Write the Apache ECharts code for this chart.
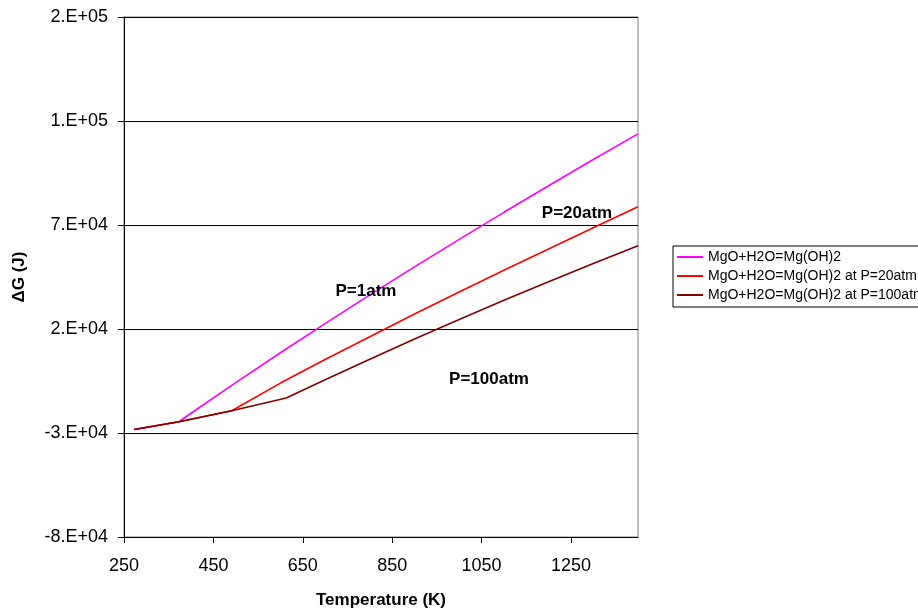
<!DOCTYPE html>
<html>
<head>
<meta charset="utf-8">
<title>MgO + H2O</title>
<script src="https://cdn.jsdelivr.net/npm/echarts@6/dist/echarts.min.js"></script>
<style>
  html, body { margin: 0; padding: 0; background: #fff; }
  #main { width: 918px; height: 609px; }
</style>
</head>
<body>
<div id="main"></div>
<script>
// 温度 (K) 与 ΔG (J)
let tempP1 = [273, 373, 400, 500, 600, 700, 800, 900, 1000, 1100, 1200, 1300, 1400]
let dgP1 = [-28300, -24600, -20500, -5800, 8600, 22600, 36400, 49900, 63100, 76100, 88900, 101500, 113800]

let tempP20 = [273, 373, 491, 500, 600, 700, 800, 900, 1000, 1100, 1200, 1300, 1400]
let dgP20 = [-28300, -24600, -19300, -18250, -6000, 5300, 16300, 27200, 37800, 48200, 58500, 68700, 78800]

let tempP100 = [273, 373, 491, 613, 700, 800, 900, 1000, 1100, 1200, 1300, 1400]
let dgP100 = [-28300, -24600, -19300, -13200, -4400, 5500, 15200, 24600, 33800, 42750, 51500, 60000]

let seriesNames = ['MgO+H2O=Mg(OH)2', 'MgO+H2O=Mg(OH)2 at P=20atm', 'MgO+H2O=Mg(OH)2 at P=100atm']
let seriesColors = ['#ff00ff', '#ff0000', '#800000']

// 刻度
let xTickValues = [250, 450, 650, 850, 1050, 1250]
let yTickValues = [-80000, -30000, 20000, 70000, 120000, 170000]
let yTickLabels = ['-8.E+04', '-3.E+04', '2.E+04', '7.E+04', '1.E+05', '2.E+05']

let font = "'Liberation Sans', Arial, sans-serif"

function pairs(xs, ys) {
  return xs.map((x, i) => [x, ys[i]])
}

let myChart = echarts.init(document.getElementById('main'), null, { renderer: 'canvas' })

let option = {
  animation: false,
  backgroundColor: '#fff',
  grid: {
    left: 124,
    top: 17,
    width: 514,
    height: 520,
    containLabel: false,
    outerBoundsMode: 'none',
    show: true,
    borderColor: '#808080',
    borderWidth: 1
  },
  legend: {
    orient: 'vertical',
    left: 673,
    top: 246,
    padding: [3, 4, 4, 4],
    icon: 'rect',
    itemWidth: 26,
    itemHeight: 2,
    itemGap: 3,
    borderColor: '#000',
    borderWidth: 1,
    selectedMode: false,
    textStyle: { fontFamily: font, fontSize: 14, color: '#000', lineHeight: 16 },
    data: seriesNames
  },
  xAxis: {
    type: 'value',
    min: 250,
    max: 1400,
    name: 'Temperature (K)',
    nameLocation: 'middle',
    nameGap: 55,
    nameTextStyle: { fontFamily: font, fontSize: 17, fontWeight: 'bold', color: '#000' },
    axisLine: { onZero: false, lineStyle: { color: '#000', width: 1 } },
    axisTick: { show: true, length: 6, lineStyle: { color: '#000' }, customValues: xTickValues },
    axisLabel: {
      customValues: xTickValues,
      margin: 20,
      fontFamily: font,
      fontSize: 18,
      color: '#000',
      formatter: v => String(v)
    },
    splitLine: { show: false }
  },
  yAxis: {
    type: 'value',
    min: -80000,
    max: 170000,
    name: 'ΔG (J)',
    nameLocation: 'middle',
    nameGap: 96,
    nameRotate: 90,
    nameTextStyle: { fontFamily: font, fontSize: 17, fontWeight: 'bold', color: '#000' },
    axisLine: { show: true, onZero: false, lineStyle: { color: '#000', width: 1 } },
    axisTick: { show: true, length: 6, lineStyle: { color: '#000' }, customValues: yTickValues },
    axisLabel: {
      customValues: yTickValues,
      margin: 16,
      fontFamily: font,
      fontSize: 18,
      color: '#000',
      formatter: v => yTickLabels[yTickValues.indexOf(v)]
    },
    splitLine: { show: true, lineStyle: { color: '#000', width: 1 } }
  },
  series: [
    { data: pairs(tempP1, dgP1) },
    { data: pairs(tempP20, dgP20) },
    { data: pairs(tempP100, dgP100) }
  ].map((s, i) => ({
    name: seriesNames[i],
    type: 'line',
    data: s.data,
    symbol: 'none',
    smooth: false,
    color: seriesColors[i],
    lineStyle: { color: seriesColors[i], width: 1.6 }
  })),
  graphic: [
    { text: 'P=1atm', x: 366, y: 291 },
    { text: 'P=20atm', x: 577, y: 213 },
    { text: 'P=100atm', x: 489, y: 379 }
  ].map(t => ({
    type: 'text',
    x: t.x,
    y: t.y,
    z: 10,
    style: {
      text: t.text,
      fill: '#000',
      font: "bold 17px " + font,
      textAlign: 'center',
      textVerticalAlign: 'middle'
    }
  }))
}

myChart.setOption(option)
</script>
</body>
</html>
